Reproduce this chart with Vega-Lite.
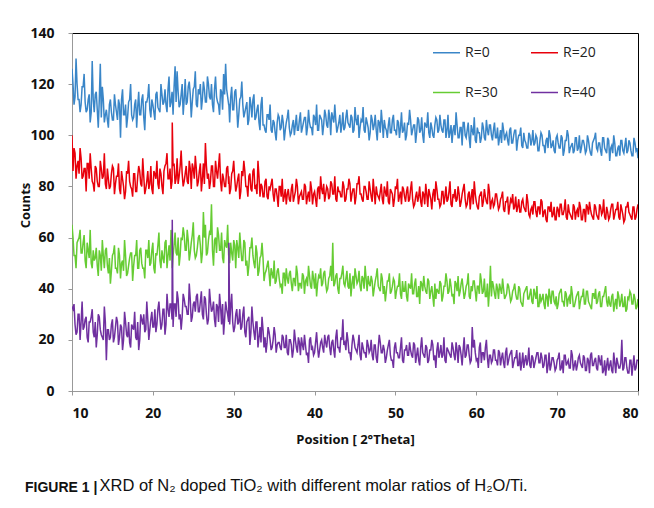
{
"$schema": "https://vega.github.io/schema/vega-lite/v6.json",
"width": 566, "height": 358,
"autosize": "none",
"padding": {"left": 72, "top": 33, "right": 16, "bottom": 117},
"background": "white",
"config": {"view": {"stroke": "#000", "strokeWidth": 1}},
"title": {"text": "FIGURE 1 |", "orient": "top", "anchor": "start", "frame": "group", "dx": -47, "dy": 480, "offset": 0, "baseline": "alphabetic", "font": "Liberation Sans", "fontSize": 14, "fontWeight": "bold", "color": "#111"},
"resolve": {"axis": {"x": "independent"}},
"layer": [
{
"data": {"values": [
{"x":10,"a":126,"b":100,"c":65,"d":33},{"x":10.25,"a":112,"b":95,"c":53,"d":34},{"x":10.5,"a":130,"b":83,"c":48,"d":22},{"x":10.75,"a":114,"b":90,"c":59,"d":30},
{"x":11,"a":109,"b":95,"c":63,"d":20},{"x":11.25,"a":119,"b":83,"c":54,"d":35},{"x":11.5,"a":124,"b":87,"c":61,"d":25},{"x":11.75,"a":109,"b":78,"c":48,"d":29},
{"x":12,"a":114,"b":89,"c":55,"d":19},{"x":12.25,"a":105,"b":93,"c":63,"d":27},{"x":12.5,"a":129,"b":82,"c":48,"d":32},{"x":12.75,"a":109,"b":78,"c":51,"d":21},
{"x":13,"a":117,"b":87,"c":56,"d":17},{"x":13.25,"a":103,"b":80,"c":45,"d":30},{"x":13.5,"a":128,"b":90,"c":53,"d":24},{"x":13.75,"a":119,"b":83,"c":59,"d":21},
{"x":14,"a":105,"b":93,"c":48,"d":33},{"x":14.25,"a":110,"b":79,"c":56,"d":12},{"x":14.5,"a":103,"b":83,"c":46,"d":24},{"x":14.75,"a":114,"b":80,"c":42,"d":21},
{"x":15,"a":106,"b":88,"c":53,"d":28},{"x":15.25,"a":116,"b":77,"c":57,"d":21},{"x":15.5,"a":109,"b":84,"c":48,"d":29},{"x":15.75,"a":114,"b":89,"c":56,"d":18},
{"x":16,"a":99,"b":77,"c":44,"d":26},{"x":16.25,"a":118,"b":83,"c":51,"d":16},{"x":16.5,"a":108,"b":75,"c":59,"d":31},{"x":16.75,"a":103,"b":86,"c":45,"d":22},
{"x":17,"a":113,"b":90,"c":49,"d":27},{"x":17.25,"a":120,"b":80,"c":54,"d":17},{"x":17.5,"a":106,"b":76,"c":43,"d":25},{"x":17.75,"a":112,"b":85,"c":53,"d":31},
{"x":18,"a":103,"b":78,"c":59,"d":20},{"x":18.25,"a":117,"b":88,"c":48,"d":16},{"x":18.5,"a":108,"b":81,"c":56,"d":30},{"x":18.75,"a":116,"b":91,"c":48,"d":26},
{"x":19,"a":102,"b":77,"c":44,"d":23},{"x":19.25,"a":113,"b":82,"c":55,"d":35},{"x":19.5,"a":120,"b":79,"c":59,"d":20},{"x":19.75,"a":107,"b":88,"c":50,"d":28},
{"x":20,"a":112,"b":77,"c":58,"d":25},{"x":20.25,"a":106,"b":85,"c":46,"d":32},{"x":20.5,"a":117,"b":90,"c":53,"d":26},{"x":20.75,"a":110,"b":79,"c":62,"d":35},
{"x":21,"a":120,"b":85,"c":48,"d":24},{"x":21.25,"a":112,"b":77,"c":52,"d":32},{"x":21.5,"a":118,"b":88,"c":58,"d":22},{"x":21.75,"a":109,"b":93,"c":48,"d":38},
{"x":22,"a":123,"b":83,"c":57,"d":29},{"x":22.25,"a":113,"b":79,"c":63,"d":34},{"x":22.4,"a":116,"b":105,"c":48,"d":67},{"x":22.5,"a":108,"b":88,"c":53,"d":25},{"x":22.75,"a":127,"b":81,"c":62,"d":34},
{"x":23,"a":125,"b":91,"c":53,"d":39},{"x":23.25,"a":111,"b":84,"c":49,"d":28},{"x":23.5,"a":116,"b":94,"c":60,"d":24},{"x":23.75,"a":108,"b":80,"c":64,"d":38},
{"x":24,"a":122,"b":85,"c":55,"d":33},{"x":24.25,"a":113,"b":82,"c":63,"d":30},{"x":24.5,"a":121,"b":90,"c":51,"d":42},{"x":24.75,"a":107,"b":79,"c":58,"d":27},
{"x":25,"a":118,"b":87,"c":66,"d":34},{"x":25.25,"a":125,"b":92,"c":52,"d":31},{"x":25.5,"a":111,"b":80,"c":56,"d":38},{"x":25.75,"a":116,"b":86,"c":61,"d":31},
{"x":26,"a":110,"b":78,"c":50,"d":39},{"x":26.25,"a":121,"b":89,"c":70,"d":28},{"x":26.5,"a":113,"b":97,"c":65,"d":36},{"x":26.75,"a":123,"b":83,"c":54,"d":26},
{"x":27,"a":115,"b":79,"c":62,"d":40},{"x":27.25,"a":120,"b":88,"c":73,"d":31},{"x":27.5,"a":109,"b":80,"c":49,"d":35},{"x":27.75,"a":123,"b":90,"c":60,"d":25},
{"x":28,"a":113,"b":83,"c":64,"d":33},{"x":28.25,"a":108,"b":93,"c":55,"d":38},{"x":28.5,"a":117,"b":78,"c":62,"d":26},{"x":28.75,"a":124,"b":83,"c":50,"d":22},
{"x":29,"a":128,"b":80,"c":57,"d":35},{"x":29.25,"a":115,"b":88,"c":65,"d":30},{"x":29.4,"a":112,"b":84,"c":56,"d":58},{"x":29.5,"a":105,"b":77,"c":50,"d":26},{"x":29.75,"a":119,"b":85,"c":54,"d":38},
{"x":30,"a":110,"b":90,"c":59,"d":23},{"x":30.25,"a":118,"b":78,"c":48,"d":30},{"x":30.5,"a":103,"b":83,"c":56,"d":26},{"x":30.75,"a":114,"b":75,"c":62,"d":32},
{"x":31,"a":121,"b":86,"c":51,"d":25},{"x":31.25,"a":107,"b":90,"c":59,"d":33},{"x":31.5,"a":111,"b":80,"c":49,"d":21},{"x":31.75,"a":104,"b":76,"c":45,"d":28},
{"x":32,"a":115,"b":85,"c":56,"d":18},{"x":32.25,"a":107,"b":78,"c":60,"d":33},{"x":32.5,"a":116,"b":87,"c":50,"d":23},{"x":32.75,"a":107,"b":80,"c":57,"d":27},
{"x":33,"a":112,"b":90,"c":45,"d":17},{"x":33.25,"a":102,"b":76,"c":52,"d":25},{"x":33.5,"a":115,"b":80,"c":58,"d":29},{"x":33.75,"a":104,"b":76,"c":43,"d":17},
{"x":34,"a":101,"b":83,"c":47,"d":15},{"x":34.25,"a":108,"b":75,"c":51,"d":25},{"x":34.5,"a":112,"b":79,"c":41,"d":20},{"x":34.75,"a":101,"b":83,"c":46,"d":17},
{"x":35,"a":105,"b":74,"c":51,"d":25},{"x":35.25,"a":98,"b":79,"c":43,"d":15},{"x":35.5,"a":108,"b":72,"c":48,"d":19},{"x":35.75,"a":102,"b":80,"c":41,"d":17},
{"x":36,"a":108,"b":83,"c":38,"d":22},{"x":36.25,"a":98,"b":76,"c":46,"d":17},{"x":36.5,"a":105,"b":73,"c":48,"d":22},{"x":36.75,"a":110,"b":79,"c":42,"d":14},
{"x":37,"a":100,"b":74,"c":47,"d":20},{"x":37.25,"a":104,"b":81,"c":39,"d":13},{"x":37.5,"a":100,"b":76,"c":44,"d":24},{"x":37.75,"a":108,"b":83,"c":49,"d":17},
{"x":38,"a":102,"b":73,"c":39,"d":21},{"x":38.25,"a":109,"b":77,"c":42,"d":14},{"x":38.5,"a":103,"b":75,"c":46,"d":18},{"x":38.75,"a":107,"b":81,"c":38,"d":22},
{"x":39,"a":100,"b":73,"c":44,"d":14},{"x":39.25,"a":110,"b":78,"c":49,"d":11},{"x":39.5,"a":103,"b":82,"c":41,"d":21},{"x":39.75,"a":100,"b":73,"c":47,"d":17},
{"x":40,"a":107,"b":78,"c":40,"d":15},{"x":40.25,"a":112,"b":72,"c":37,"d":23},{"x":40.5,"a":102,"b":80,"c":45,"d":13},{"x":40.75,"a":107,"b":84,"c":48,"d":19},
{"x":41,"a":100,"b":77,"c":42,"d":17},{"x":41.25,"a":110,"b":74,"c":47,"d":22},{"x":41.5,"a":104,"b":80,"c":39,"d":17},{"x":41.75,"a":110,"b":75,"c":44,"d":22},
{"x":42,"a":100,"b":82,"c":49,"d":14},{"x":42.25,"a":107,"b":77,"c":58,"d":20},{"x":42.5,"a":112,"b":84,"c":42,"d":13},{"x":42.75,"a":101,"b":74,"c":46,"d":24},
{"x":43,"a":105,"b":78,"c":38,"d":17},{"x":43.25,"a":101,"b":76,"c":44,"d":21},{"x":43.5,"a":109,"b":82,"c":49,"d":28},{"x":43.75,"a":103,"b":74,"c":41,"d":19},
{"x":44,"a":110,"b":79,"c":47,"d":23},{"x":44.25,"a":104,"b":83,"c":40,"d":15},{"x":44.5,"a":108,"b":74,"c":37,"d":12},{"x":44.75,"a":101,"b":79,"c":45,"d":22},
{"x":45,"a":111,"b":73,"c":48,"d":17},{"x":45.25,"a":104,"b":81,"c":42,"d":15},{"x":45.5,"a":99,"b":84,"c":47,"d":22},{"x":45.75,"a":106,"b":77,"c":39,"d":12},
{"x":46,"a":111,"b":74,"c":44,"d":17},{"x":46.25,"a":101,"b":80,"c":49,"d":15},{"x":46.5,"a":105,"b":75,"c":39,"d":20},{"x":46.75,"a":98,"b":82,"c":42,"d":15},
{"x":47,"a":108,"b":76,"c":45,"d":20},{"x":47.25,"a":102,"b":83,"c":37,"d":12},{"x":47.5,"a":108,"b":73,"c":43,"d":18},{"x":47.75,"a":98,"b":77,"c":48,"d":11},
{"x":48,"a":105,"b":75,"c":40,"d":22},{"x":48.25,"a":110,"b":81,"c":46,"d":15},{"x":48.5,"a":99,"b":73,"c":38,"d":18},{"x":48.75,"a":103,"b":78,"c":35,"d":11},
{"x":49,"a":99,"b":82,"c":43,"d":16},{"x":49.25,"a":107,"b":73,"c":46,"d":20},{"x":49.5,"a":101,"b":78,"c":39,"d":12},{"x":49.75,"a":108,"b":72,"c":44,"d":9},
{"x":50,"a":102,"b":80,"c":36,"d":19},{"x":50.25,"a":106,"b":83,"c":41,"d":15},{"x":50.5,"a":99,"b":76,"c":46,"d":13},{"x":50.75,"a":109,"b":73,"c":36,"d":21},
{"x":51,"a":102,"b":79,"c":39,"d":11},{"x":51.25,"a":98,"b":74,"c":43,"d":16},{"x":51.5,"a":105,"b":80,"c":35,"d":14},{"x":51.75,"a":110,"b":75,"c":41,"d":19},
{"x":52,"a":100,"b":82,"c":46,"d":14},{"x":52.25,"a":104,"b":72,"c":38,"d":19},{"x":52.5,"a":97,"b":76,"c":44,"d":11},{"x":52.75,"a":107,"b":74,"c":37,"d":17},
{"x":53,"a":101,"b":80,"c":34,"d":10},{"x":53.25,"a":107,"b":72,"c":42,"d":21},{"x":53.5,"a":97,"b":77,"c":45,"d":14},{"x":53.75,"a":104,"b":81,"c":39,"d":18},
{"x":54,"a":109,"b":72,"c":44,"d":11},{"x":54.25,"a":99,"b":77,"c":36,"d":16},{"x":54.5,"a":103,"b":71,"c":41,"d":20},{"x":54.75,"a":99,"b":79,"c":33,"d":12},
{"x":55,"a":107,"b":82,"c":36,"d":9},{"x":55.25,"a":101,"b":75,"c":39,"d":19},{"x":55.5,"a":108,"b":72,"c":43,"d":15},{"x":55.75,"a":102,"b":78,"c":35,"d":13},
{"x":56,"a":106,"b":73,"c":41,"d":21},{"x":56.25,"a":99,"b":80,"c":46,"d":11},{"x":56.5,"a":108,"b":75,"c":38,"d":16},{"x":56.75,"a":101,"b":82,"c":44,"d":14},
{"x":57,"a":97,"b":72,"c":37,"d":19},{"x":57.25,"a":104,"b":76,"c":34,"d":14},{"x":57.5,"a":109,"b":74,"c":42,"d":19},{"x":57.75,"a":99,"b":80,"c":45,"d":11},
{"x":58,"a":103,"b":72,"c":39,"d":17},{"x":58.25,"a":96,"b":77,"c":44,"d":10},{"x":58.5,"a":105,"b":81,"c":36,"d":21},{"x":58.75,"a":99,"b":72,"c":41,"d":14},
{"x":59,"a":105,"b":77,"c":46,"d":18},{"x":59.25,"a":95,"b":71,"c":36,"d":11},{"x":59.5,"a":102,"b":79,"c":39,"d":25},{"x":59.75,"a":107,"b":82,"c":43,"d":20},
{"x":60,"a":97,"b":74,"c":35,"d":12},{"x":60.25,"a":101,"b":71,"c":41,"d":9},{"x":60.5,"a":97,"b":77,"c":46,"d":19},{"x":60.75,"a":105,"b":72,"c":38,"d":15},
{"x":61,"a":99,"b":79,"c":44,"d":12},{"x":61.25,"a":106,"b":74,"c":37,"d":20},{"x":61.5,"a":100,"b":81,"c":33,"d":9},{"x":61.75,"a":104,"b":71,"c":49,"d":14},
{"x":62,"a":98,"b":75,"c":43,"d":12},{"x":62.25,"a":105,"b":73,"c":38,"d":16},{"x":62.5,"a":99,"b":77,"c":42,"d":12},{"x":62.75,"a":96,"b":71,"c":36,"d":16},
{"x":63,"a":102,"b":75,"c":40,"d":10},{"x":63.25,"a":105,"b":78,"c":44,"d":15},{"x":63.5,"a":98,"b":70,"c":36,"d":9},{"x":63.75,"a":101,"b":74,"c":38,"d":17},
{"x":64,"a":96,"b":69,"c":41,"d":12},{"x":64.25,"a":103,"b":75,"c":35,"d":15},{"x":64.5,"a":97,"b":77,"c":39,"d":9},{"x":64.75,"a":102,"b":72,"c":42,"d":13},
{"x":65,"a":94,"b":70,"c":36,"d":16},{"x":65.25,"a":100,"b":75,"c":41,"d":10},{"x":65.5,"a":103,"b":70,"c":35,"d":8},{"x":65.75,"a":95,"b":75,"c":33,"d":15},
{"x":66,"a":98,"b":71,"c":39,"d":12},{"x":66.25,"a":95,"b":77,"c":41,"d":10},{"x":66.5,"a":101,"b":69,"c":36,"d":17},{"x":66.75,"a":96,"b":71,"c":40,"d":9},
{"x":67,"a":102,"b":69,"c":34,"d":13},{"x":67.25,"a":97,"b":74,"c":38,"d":11},{"x":67.5,"a":99,"b":68,"c":41,"d":15},{"x":67.75,"a":94,"b":72,"c":33,"d":11},
{"x":68,"a":101,"b":75,"c":35,"d":15},{"x":68.25,"a":96,"b":68,"c":38,"d":9},{"x":68.5,"a":93,"b":71,"c":32,"d":14},{"x":68.75,"a":99,"b":66,"c":37,"d":7},
{"x":69,"a":102,"b":72,"c":40,"d":15},{"x":69.25,"a":95,"b":74,"c":34,"d":10},{"x":69.5,"a":98,"b":69,"c":39,"d":13},{"x":69.75,"a":93,"b":67,"c":34,"d":8},
{"x":70,"a":100,"b":72,"c":32,"d":12},{"x":70.25,"a":95,"b":68,"c":38,"d":15},{"x":70.5,"a":100,"b":73,"c":40,"d":9},{"x":70.75,"a":92,"b":69,"c":35,"d":7},
{"x":71,"a":98,"b":75,"c":39,"d":14},{"x":71.25,"a":102,"b":67,"c":33,"d":11},{"x":71.5,"a":93,"b":70,"c":37,"d":9},{"x":71.75,"a":96,"b":68,"c":41,"d":16},
{"x":72,"a":93,"b":73,"c":33,"d":8},{"x":72.25,"a":99,"b":67,"c":35,"d":12},{"x":72.5,"a":94,"b":71,"c":38,"d":10},{"x":72.75,"a":100,"b":74,"c":32,"d":14},
{"x":73,"a":95,"b":67,"c":37,"d":10},{"x":73.25,"a":98,"b":71,"c":40,"d":14},{"x":73.5,"a":93,"b":66,"c":34,"d":8},{"x":73.75,"a":100,"b":72,"c":39,"d":13},
{"x":74,"a":95,"b":74,"c":34,"d":7},{"x":74.25,"a":92,"b":69,"c":32,"d":15},{"x":74.5,"a":98,"b":67,"c":38,"d":10},{"x":74.75,"a":101,"b":72,"c":40,"d":13},
{"x":75,"a":94,"b":68,"c":35,"d":8},{"x":75.25,"a":97,"b":73,"c":39,"d":12},{"x":75.5,"a":92,"b":69,"c":33,"d":14},{"x":75.75,"a":99,"b":75,"c":37,"d":8},
{"x":76,"a":94,"b":67,"c":41,"d":6},{"x":76.25,"a":99,"b":70,"c":33,"d":13},{"x":76.5,"a":90,"b":68,"c":34,"d":10},{"x":76.75,"a":96,"b":73,"c":37,"d":8},
{"x":77,"a":100,"b":67,"c":31,"d":15},{"x":77.25,"a":92,"b":71,"c":36,"d":7},{"x":77.5,"a":95,"b":74,"c":39,"d":11},{"x":77.75,"a":92,"b":67,"c":33,"d":9},
{"x":78,"a":98,"b":71,"c":38,"d":20},{"x":78.25,"a":93,"b":66,"c":33,"d":9},{"x":78.5,"a":99,"b":72,"c":31,"d":13},{"x":78.75,"a":94,"b":74,"c":37,"d":7},
{"x":79,"a":97,"b":69,"c":39,"d":12},{"x":79.25,"a":92,"b":67,"c":34,"d":6},{"x":79.5,"a":99,"b":72,"c":38,"d":14},{"x":79.75,"a":94,"b":68,"c":32,"d":9},
{"x":80,"a":91,"b":73,"c":36,"d":12},
{"x":10.125,"a":120,"b":86,"c":60,"d":32},{"x":10.375,"a":115,"b":93,"c":53,"d":26},{"x":10.625,"a":120,"b":88,"c":58,"d":23},{"x":10.875,"a":114,"b":85,"c":60,"d":30},
{"x":11.125,"a":112,"b":91,"c":54,"d":27},{"x":11.375,"a":119,"b":84,"c":58,"d":24},{"x":11.625,"a":113,"b":87,"c":51,"d":28},{"x":11.875,"a":110,"b":89,"c":58,"d":21},
{"x":12.125,"a":116,"b":83,"c":52,"d":27},{"x":12.375,"a":109,"b":87,"c":50,"d":29},{"x":12.625,"a":114,"b":81,"c":55,"d":23},{"x":12.875,"a":116,"b":88,"c":52,"d":27},
{"x":13.125,"a":110,"b":82,"c":49,"d":22},{"x":13.375,"a":114,"b":80,"c":55,"d":29},{"x":13.625,"a":107,"b":87,"c":47,"d":22},{"x":13.875,"a":114,"b":84,"c":53,"d":20},
{"x":14.125,"a":108,"b":81,"c":55,"d":27},{"x":14.375,"a":106,"b":87,"c":49,"d":24},{"x":14.625,"a":112,"b":79,"c":52,"d":20},{"x":14.875,"a":109,"b":85,"c":47,"d":26},
{"x":15.125,"a":106,"b":87,"c":54,"d":19},{"x":15.375,"a":112,"b":81,"c":48,"d":25},{"x":15.625,"a":106,"b":84,"c":46,"d":27},{"x":15.875,"a":112,"b":79,"c":53,"d":21},
{"x":16.125,"a":114,"b":86,"c":50,"d":25},{"x":16.375,"a":108,"b":80,"c":47,"d":20},{"x":16.625,"a":112,"b":78,"c":53,"d":27},{"x":16.875,"a":107,"b":85,"c":46,"d":21},
{"x":17.125,"a":114,"b":82,"c":52,"d":19},{"x":17.375,"a":108,"b":79,"c":54,"d":26},{"x":17.625,"a":107,"b":85,"c":49,"d":24},{"x":17.875,"a":114,"b":78,"c":53,"d":21},
{"x":18.125,"a":111,"b":84,"c":48,"d":27},{"x":18.375,"a":108,"b":86,"c":55,"d":20},{"x":18.625,"a":114,"b":80,"c":50,"d":28},{"x":18.875,"a":107,"b":84,"c":48,"d":30},
{"x":19.125,"a":113,"b":79,"c":55,"d":24},{"x":19.375,"a":115,"b":86,"c":52,"d":28},{"x":19.625,"a":110,"b":81,"c":49,"d":24},{"x":19.875,"a":114,"b":79,"c":55,"d":31},
{"x":20.125,"a":109,"b":86,"c":48,"d":25},{"x":20.375,"a":116,"b":83,"c":54,"d":23},{"x":20.625,"a":111,"b":81,"c":57,"d":32},{"x":20.875,"a":109,"b":87,"c":51,"d":29},
{"x":21.125,"a":116,"b":80,"c":55,"d":26},{"x":21.375,"a":113,"b":86,"c":50,"d":32},{"x":21.625,"a":112,"b":89,"c":59,"d":26},{"x":21.875,"a":118,"b":83,"c":53,"d":32},
{"x":22.125,"a":111,"b":87,"c":51,"d":34},{"x":22.375,"a":117,"b":82,"c":58,"d":28},{"x":22.625,"a":119,"b":89,"c":57,"d":34},{"x":22.875,"a":113,"b":83,"c":54,"d":29},
{"x":23.125,"a":117,"b":81,"c":60,"d":36},{"x":23.375,"a":112,"b":88,"c":53,"d":30},{"x":23.625,"a":120,"b":85,"c":59,"d":29},{"x":23.875,"a":114,"b":82,"c":61,"d":36},
{"x":24.125,"a":112,"b":88,"c":55,"d":33},{"x":24.375,"a":119,"b":81,"c":59,"d":30},{"x":24.625,"a":116,"b":87,"c":54,"d":36},{"x":24.875,"a":113,"b":89,"c":61,"d":29},
{"x":25.125,"a":119,"b":83,"c":55,"d":35},{"x":25.375,"a":112,"b":87,"c":53,"d":37},{"x":25.625,"a":118,"b":82,"c":60,"d":31},{"x":25.875,"a":120,"b":89,"c":57,"d":35},
{"x":26.125,"a":114,"b":83,"c":54,"d":30},{"x":26.375,"a":118,"b":81,"c":60,"d":37},{"x":26.625,"a":113,"b":88,"c":53,"d":30},{"x":26.875,"a":120,"b":85,"c":59,"d":28},
{"x":27.125,"a":114,"b":82,"c":61,"d":35},{"x":27.375,"a":112,"b":88,"c":55,"d":32},{"x":27.625,"a":118,"b":80,"c":59,"d":28},{"x":27.875,"a":115,"b":86,"c":54,"d":34},
{"x":28.125,"a":112,"b":88,"c":61,"d":27},{"x":28.375,"a":118,"b":82,"c":55,"d":33},{"x":28.625,"a":110,"b":85,"c":52,"d":34},{"x":28.875,"a":116,"b":80,"c":59,"d":28},
{"x":29.125,"a":118,"b":87,"c":56,"d":32},{"x":29.375,"a":112,"b":81,"c":53,"d":27},{"x":29.625,"a":115,"b":79,"c":58,"d":33},{"x":29.875,"a":110,"b":86,"c":51,"d":27},
{"x":30.125,"a":117,"b":83,"c":57,"d":25},{"x":30.375,"a":111,"b":80,"c":59,"d":32},{"x":30.625,"a":108,"b":85,"c":52,"d":27},{"x":30.875,"a":115,"b":78,"c":56,"d":24},
{"x":31.125,"a":112,"b":84,"c":51,"d":30},{"x":31.375,"a":109,"b":86,"c":58,"d":23},{"x":31.625,"a":113,"b":80,"c":51,"d":27},{"x":31.875,"a":106,"b":84,"c":49,"d":29},
{"x":32.125,"a":112,"b":79,"c":56,"d":23},{"x":32.375,"a":114,"b":86,"c":53,"d":27},{"x":32.625,"a":106,"b":79,"c":48,"d":20},{"x":32.875,"a":110,"b":77,"c":54,"d":27},
{"x":33.125,"a":105,"b":84,"c":47,"d":21},{"x":33.375,"a":112,"b":81,"c":53,"d":19},{"x":33.625,"a":104,"b":76,"c":52,"d":24},{"x":33.875,"a":102,"b":82,"c":46,"d":21},
{"x":34.125,"a":108,"b":76,"c":49,"d":19},{"x":34.375,"a":106,"b":80,"c":46,"d":23},{"x":34.625,"a":102,"b":81,"c":48,"d":16},{"x":34.875,"a":106,"b":77,"c":44,"d":20},
{"x":35.125,"a":101,"b":79,"c":42,"d":22},{"x":35.375,"a":105,"b":76,"c":47,"d":18},{"x":35.625,"a":107,"b":80,"c":44,"d":19},{"x":35.875,"a":103,"b":76,"c":42,"d":16},
{"x":36.125,"a":105,"b":74,"c":46,"d":21},{"x":36.375,"a":102,"b":79,"c":41,"d":17},{"x":36.625,"a":107,"b":77,"c":44,"d":15},{"x":36.875,"a":103,"b":75,"c":46,"d":20},
{"x":37.125,"a":101,"b":79,"c":42,"d":18},{"x":37.375,"a":106,"b":74,"c":44,"d":16},{"x":37.625,"a":104,"b":78,"c":41,"d":20},{"x":37.875,"a":102,"b":80,"c":46,"d":15},
{"x":38.125,"a":106,"b":76,"c":42,"d":19},{"x":38.375,"a":101,"b":78,"c":40,"d":21},{"x":38.625,"a":105,"b":75,"c":45,"d":16},{"x":38.875,"a":107,"b":80,"c":43,"d":18},
{"x":39.125,"a":103,"b":76,"c":41,"d":15},{"x":39.375,"a":105,"b":74,"c":45,"d":20},{"x":39.625,"a":103,"b":79,"c":40,"d":16},{"x":39.875,"a":108,"b":77,"c":44,"d":14},
{"x":40.125,"a":104,"b":75,"c":46,"d":19},{"x":40.375,"a":102,"b":79,"c":42,"d":17},{"x":40.625,"a":108,"b":75,"c":44,"d":16},{"x":40.875,"a":106,"b":79,"c":41,"d":20},
{"x":41.125,"a":104,"b":81,"c":46,"d":15},{"x":41.375,"a":108,"b":77,"c":42,"d":19},{"x":41.625,"a":103,"b":79,"c":40,"d":21},{"x":41.875,"a":107,"b":76,"c":45,"d":17},
{"x":42.125,"a":109,"b":81,"c":43,"d":19},{"x":42.375,"a":105,"b":77,"c":41,"d":16},{"x":42.625,"a":106,"b":75,"c":45,"d":21},{"x":42.875,"a":103,"b":80,"c":40,"d":17},
{"x":43.125,"a":108,"b":78,"c":44,"d":15},{"x":43.375,"a":104,"b":76,"c":46,"d":20},{"x":43.625,"a":102,"b":80,"c":42,"d":18},{"x":43.875,"a":107,"b":75,"c":44,"d":16},
{"x":44.125,"a":105,"b":79,"c":41,"d":20},{"x":44.375,"a":103,"b":81,"c":46,"d":15},{"x":44.625,"a":107,"b":77,"c":42,"d":18},{"x":44.875,"a":102,"b":79,"c":40,"d":20},
{"x":45.125,"a":106,"b":76,"c":45,"d":16},{"x":45.375,"a":108,"b":81,"c":43,"d":18},{"x":45.625,"a":103,"b":77,"c":41,"d":14},{"x":45.875,"a":105,"b":75,"c":45,"d":19},
{"x":46.125,"a":102,"b":80,"c":40,"d":15},{"x":46.375,"a":107,"b":78,"c":44,"d":13},{"x":46.625,"a":103,"b":75,"c":45,"d":18},{"x":46.875,"a":101,"b":79,"c":41,"d":16},
{"x":47.125,"a":106,"b":74,"c":43,"d":14},{"x":47.375,"a":104,"b":78,"c":40,"d":18},{"x":47.625,"a":102,"b":80,"c":45,"d":13},{"x":47.875,"a":106,"b":76,"c":41,"d":17},
{"x":48.125,"a":101,"b":78,"c":39,"d":19},{"x":48.375,"a":105,"b":75,"c":44,"d":15},{"x":48.625,"a":106,"b":80,"c":41,"d":16},{"x":48.875,"a":102,"b":76,"c":39,"d":13},
{"x":49.125,"a":104,"b":74,"c":43,"d":18},{"x":49.375,"a":101,"b":79,"c":38,"d":14},{"x":49.625,"a":106,"b":77,"c":41,"d":12},{"x":49.875,"a":102,"b":75,"c":43,"d":17},
{"x":50.125,"a":100,"b":79,"c":39,"d":15},{"x":50.375,"a":105,"b":74,"c":41,"d":13},{"x":50.625,"a":103,"b":78,"c":38,"d":17},{"x":50.875,"a":101,"b":80,"c":43,"d":12},
{"x":51.125,"a":105,"b":76,"c":39,"d":16},{"x":51.375,"a":100,"b":78,"c":37,"d":18},{"x":51.625,"a":104,"b":74,"c":42,"d":14},{"x":51.875,"a":106,"b":79,"c":40,"d":16},
{"x":52.125,"a":102,"b":75,"c":38,"d":13},{"x":52.375,"a":104,"b":73,"c":42,"d":18},{"x":52.625,"a":101,"b":78,"c":37,"d":14},{"x":52.875,"a":106,"b":76,"c":41,"d":12},
{"x":53.125,"a":102,"b":74,"c":43,"d":17},{"x":53.375,"a":100,"b":78,"c":39,"d":15},{"x":53.625,"a":105,"b":73,"c":41,"d":13},{"x":53.875,"a":103,"b":77,"c":38,"d":17},
{"x":54.125,"a":101,"b":79,"c":43,"d":12},{"x":54.375,"a":105,"b":75,"c":39,"d":16},{"x":54.625,"a":100,"b":77,"c":37,"d":18},{"x":54.875,"a":104,"b":74,"c":42,"d":14},
{"x":55.125,"a":106,"b":79,"c":40,"d":16},{"x":55.375,"a":102,"b":75,"c":38,"d":13},{"x":55.625,"a":104,"b":73,"c":42,"d":18},{"x":55.875,"a":101,"b":78,"c":37,"d":14},
{"x":56.125,"a":106,"b":76,"c":41,"d":12},{"x":56.375,"a":102,"b":74,"c":43,"d":17},{"x":56.625,"a":99,"b":78,"c":39,"d":15},{"x":56.875,"a":104,"b":73,"c":41,"d":13},
{"x":57.125,"a":102,"b":77,"c":38,"d":17},{"x":57.375,"a":100,"b":79,"c":43,"d":12},{"x":57.625,"a":104,"b":75,"c":39,"d":16},{"x":57.875,"a":99,"b":77,"c":37,"d":18},
{"x":58.125,"a":103,"b":74,"c":42,"d":14},{"x":58.375,"a":105,"b":79,"c":40,"d":16},{"x":58.625,"a":100,"b":75,"c":38,"d":13},{"x":58.875,"a":102,"b":73,"c":42,"d":18},
{"x":59.125,"a":99,"b":78,"c":37,"d":14},{"x":59.375,"a":104,"b":76,"c":41,"d":12},{"x":59.625,"a":100,"b":73,"c":43,"d":17},{"x":59.875,"a":98,"b":77,"c":39,"d":15},
{"x":60.125,"a":103,"b":72,"c":41,"d":13},{"x":60.375,"a":101,"b":76,"c":38,"d":17},{"x":60.625,"a":99,"b":78,"c":43,"d":11},{"x":60.875,"a":103,"b":74,"c":39,"d":15},
{"x":61.125,"a":98,"b":76,"c":37,"d":17},{"x":61.375,"a":102,"b":73,"c":42,"d":13},{"x":61.625,"a":104,"b":78,"c":39,"d":14},{"x":61.875,"a":100,"b":74,"c":37,"d":11},
{"x":62.125,"a":102,"b":72,"c":41,"d":16},{"x":62.375,"a":99,"b":77,"c":36,"d":12},{"x":62.625,"a":103,"b":74,"c":40,"d":10},{"x":62.875,"a":99,"b":72,"c":42,"d":15},
{"x":63.125,"a":97,"b":76,"c":38,"d":13},{"x":63.375,"a":102,"b":71,"c":40,"d":11},{"x":63.625,"a":100,"b":74,"c":37,"d":15},{"x":63.875,"a":98,"b":76,"c":42,"d":10},
{"x":64.125,"a":102,"b":72,"c":38,"d":14},{"x":64.375,"a":97,"b":74,"c":36,"d":16},{"x":64.625,"a":100,"b":71,"c":40,"d":11},{"x":64.875,"a":102,"b":76,"c":38,"d":13},
{"x":65.125,"a":98,"b":72,"c":36,"d":10},{"x":65.375,"a":100,"b":70,"c":40,"d":15},{"x":65.625,"a":96,"b":74,"c":34,"d":11},{"x":65.875,"a":101,"b":72,"c":38,"d":9},
{"x":66.125,"a":97,"b":70,"c":40,"d":14},{"x":66.375,"a":95,"b":74,"c":36,"d":12},{"x":66.625,"a":100,"b":68,"c":38,"d":10},{"x":66.875,"a":98,"b":72,"c":35,"d":14},
{"x":67.125,"a":96,"b":74,"c":40,"d":9},{"x":67.375,"a":100,"b":70,"c":36,"d":13},{"x":67.625,"a":94,"b":72,"c":33,"d":15},{"x":67.875,"a":98,"b":69,"c":38,"d":11},
{"x":68.125,"a":100,"b":74,"c":36,"d":13},{"x":68.375,"a":96,"b":70,"c":34,"d":10},{"x":68.625,"a":98,"b":67,"c":38,"d":14},{"x":68.875,"a":95,"b":72,"c":33,"d":10},
{"x":69.125,"a":100,"b":70,"c":37,"d":8},{"x":69.375,"a":96,"b":68,"c":39,"d":13},{"x":69.625,"a":94,"b":72,"c":35,"d":11},{"x":69.875,"a":99,"b":67,"c":37,"d":9},
{"x":70.125,"a":97,"b":71,"c":34,"d":13},{"x":70.375,"a":95,"b":73,"c":39,"d":8},{"x":70.625,"a":99,"b":69,"c":35,"d":12},{"x":70.875,"a":94,"b":71,"c":33,"d":14},
{"x":71.125,"a":98,"b":68,"c":38,"d":10},{"x":71.375,"a":100,"b":73,"c":36,"d":12},{"x":71.625,"a":95,"b":69,"c":34,"d":9},{"x":71.875,"a":97,"b":67,"c":38,"d":14},
{"x":72.125,"a":94,"b":72,"c":33,"d":10},{"x":72.375,"a":99,"b":70,"c":37,"d":8},{"x":72.625,"a":95,"b":68,"c":39,"d":13},{"x":72.875,"a":93,"b":72,"c":35,"d":11},
{"x":73.125,"a":98,"b":67,"c":37,"d":9},{"x":73.375,"a":96,"b":71,"c":34,"d":13},{"x":73.625,"a":94,"b":73,"c":39,"d":8},{"x":73.875,"a":98,"b":69,"c":35,"d":12},
{"x":74.125,"a":93,"b":71,"c":33,"d":14},{"x":74.375,"a":97,"b":68,"c":38,"d":10},{"x":74.625,"a":99,"b":73,"c":36,"d":12},{"x":74.875,"a":95,"b":69,"c":34,"d":9},
{"x":75.125,"a":97,"b":67,"c":38,"d":14},{"x":75.375,"a":94,"b":72,"c":33,"d":10},{"x":75.625,"a":99,"b":70,"c":37,"d":7},{"x":75.875,"a":95,"b":68,"c":39,"d":12},
{"x":76.125,"a":93,"b":72,"c":35,"d":10},{"x":76.375,"a":98,"b":67,"c":37,"d":8},{"x":76.625,"a":95,"b":71,"c":33,"d":12},{"x":76.875,"a":93,"b":73,"c":38,"d":7},
{"x":77.125,"a":97,"b":69,"c":34,"d":11},{"x":77.375,"a":92,"b":71,"c":32,"d":13},{"x":77.625,"a":96,"b":68,"c":37,"d":9},{"x":77.875,"a":98,"b":73,"c":35,"d":11},
{"x":78.125,"a":94,"b":69,"c":33,"d":8},{"x":78.375,"a":96,"b":67,"c":37,"d":13},{"x":78.625,"a":93,"b":72,"c":32,"d":9},{"x":78.875,"a":98,"b":70,"c":36,"d":7},
{"x":79.125,"a":94,"b":68,"c":38,"d":12},{"x":79.375,"a":92,"b":72,"c":34,"d":10},{"x":79.625,"a":97,"b":67,"c":36,"d":8},{"x":79.875,"a":95,"b":71,"c":33,"d":12}
]},
"transform": [{"fold": ["a", "b", "c", "d"], "as": ["s", "v"]}],
"mark": {"type": "line", "strokeWidth": 1.5, "clip": true},
"encoding": {
"x": {"field": "x", "type": "quantitative", "scale": {"domain": [10, 80], "nice": false},
"axis": {"values": [10, 20, 30, 40, 50, 60, 70, 80], "grid": false, "title": "Position [ 2°Theta]", "domainColor": "#999", "tickColor": "#999", "tickSize": 4, "labelPadding": 11, "labelFont": "Open Sans", "labelFontSize": 14, "labelFontWeight": "bold", "labelColor": "#111", "titleFont": "Open Sans", "titleFontSize": 13, "titleFontWeight": "bold", "titleColor": "#111", "titlePadding": 13}},
"y": {"field": "v", "type": "quantitative", "scale": {"domain": [0, 140], "nice": false},
"axis": {"values": [0, 20, 40, 60, 80, 100, 120, 140], "grid": false, "title": "Counts", "domainColor": "#999", "tickColor": "#999", "tickSize": 4, "labelPadding": 14, "labelFont": "Open Sans", "labelFontSize": 14, "labelFontWeight": "bold", "labelColor": "#111", "titleFont": "Open Sans", "titleFontSize": 13, "titleFontWeight": "bold", "titleColor": "#111", "titleX": -47, "titleY": 172, "titleBaseline": "middle", "titleAlign": "center", "titleAngle": -90}},
"color": {"field": "s", "type": "nominal", "scale": {"domain": ["a", "b", "c", "d"], "range": ["#3a86c8", "#e8000b", "#66cc33", "#7030a0"]},
"legend": {"title": null, "orient": "none", "legendX": 360, "legendY": 5, "columns": 2, "direction": "horizontal", "symbolType": "stroke", "symbolSize": 729, "symbolStrokeWidth": 1.5, "labelFont": "Open Sans", "labelFontSize": 14, "labelColor": "#222", "labelOffset": 4, "columnPadding": 30, "rowPadding": 18, "padding": 0, "labelExpr": "datum.label == 'a' ? 'R=0' : datum.label == 'b' ? 'R=20' : datum.label == 'c' ? 'R=30' : 'R=40'"}}
}
},
{
"data": {"values": [{}]},
"mark": {"type": "rule", "opacity": 0},
"encoding": {
"x": {"datum": 10, "type": "quantitative", "scale": {"domain": [10, 80], "nice": false},
"axis": {"orient": "top", "domain": false, "ticks": false, "labels": false, "grid": false, "title": "XRD of N₂ doped TiO₂ with different molar ratios of H₂O/Ti.", "titleX": 27, "titleY": 457, "titleAlign": "left", "titleAnchor": "start", "titleBaseline": "alphabetic", "titleAngle": 0, "titleFont": "Liberation Sans", "titleFontSize": 16.5, "titleFontWeight": "normal", "titleColor": "#111"}}
}
}
]
}
